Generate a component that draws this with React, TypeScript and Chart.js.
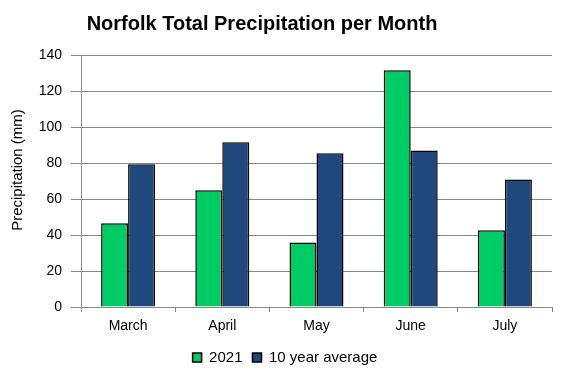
import React, { useEffect, useRef } from "react";
import { Chart, registerables } from "chart.js";

Chart.register(...registerables);

const months = ["March", "April", "May", "June", "July"];
const precip2021 = [46.5, 64.8, 35.9, 131.5, 42.6];
const tenYearAvg = [79.3, 91.5, 85.4, 87.0, 70.9];
const yTicks = [0, 20, 40, 60, 80, 100, 120, 140];
const titleText = "Norfolk Total Precipitation per Month";
const yTitleText = "Precipitation (mm)";

const FONT = "'Liberation Sans', Arial, sans-serif";

const titlePlugin = {
  id: "customTitle",
  afterLayout(chart: any) {
    if (chart.legend) {
      chart.legend.left += 9;
      chart.legend.right += 9;
    }
  },
  afterDraw(chart: any) {
    const ctx = chart.ctx;
    ctx.save();
    ctx.font = "bold 20px 'Liberation Sans', Arial, sans-serif";
    ctx.fillStyle = "#000";
    ctx.textAlign = "center";
    ctx.textBaseline = "middle";
    ctx.fillText(titleText, 262, 24);
    ctx.restore();

    ctx.save();
    ctx.font = "15px 'Liberation Sans', Arial, sans-serif";
    ctx.fillStyle = "#000";
    ctx.textAlign = "center";
    ctx.textBaseline = "middle";
    ctx.translate(18, 170);
    ctx.rotate(-Math.PI / 2);
    ctx.fillText(yTitleText, 0, 0);
    ctx.restore();
  },
};

export default function App() {
  const ref = useRef<HTMLCanvasElement | null>(null);
  useEffect(() => {
    if (!ref.current) return;
    const chart = new Chart(ref.current, {
      type: "bar",
      data: {
        labels: months,
        datasets: [
          {
            label: "2021",
            data: precip2021,
            backgroundColor: "#00CC66",
            borderColor: "#000000",
            borderWidth: 1.5,
            barPercentage: 1,
            categoryPercentage: 0.573,
          },
          {
            label: "10 year average",
            data: tenYearAvg,
            backgroundColor: "#1F497D",
            borderColor: "#000000",
            borderWidth: 1.5,
            barPercentage: 1,
            categoryPercentage: 0.573,
          },
        ],
      },
      plugins: [titlePlugin],
      options: {
        animation: false,
        responsive: false,
        layout: { padding: { left: 0, right: 14, top: 55, bottom: 3 } },
        plugins: {
          title: { display: false },
          legend: {
            position: "bottom",
            labels: {
              color: "#000",
              font: { family: FONT, size: 15 },
              boxWidth: 9,
              boxHeight: 9,
              padding: 10,
              useBorderRadius: false,
            },
          },
          tooltip: { enabled: false },
        },
        scales: {
          x: {
            grid: {
              display: true,
              drawOnChartArea: false,
              drawTicks: true,
              tickLength: 5,
              color: "#888888",
              offset: true,
            },
            border: { display: true, color: "#888888", width: 1 },
            ticks: { color: "#000", font: { family: FONT, size: 14 }, padding: 6 },
            afterFit: (s: any) => {
              s.height = 33;
            },
          },
          y: {
            min: 0,
            max: 140,
            afterBuildTicks: (s: any) => {
              s.ticks = yTicks.map((v) => ({ value: v }));
            },
            grid: { color: "#888888", lineWidth: 1, tickLength: 10 },
            border: { display: true, color: "#888888", width: 1 },
            ticks: { color: "#000", font: { family: FONT, size: 14 }, padding: 9 },
            title: { display: false },
            afterFit: (s: any) => {
              s.width = 81;
            },
          },
        },
      },
    });
    return () => chart.destroy();
  }, []);
  return (
    <div style={{ position: "fixed", left: 0, top: 0, width: 566, height: 378, background: "#fff" }}>
      <canvas ref={ref} width={566} height={378} style={{ display: "block" }} />
    </div>
  );
}
